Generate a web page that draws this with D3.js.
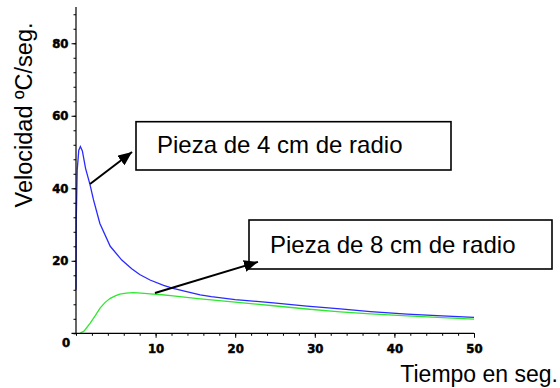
<!DOCTYPE html>
<html>
<head>
<meta charset="utf-8">
<script src="https://cdn.jsdelivr.net/npm/d3@7"></script>
<style>
  body { margin: 0; background: #fff; }
  svg { display: block; }
  .num { font-family: "DejaVu Sans Condensed", sans-serif; font-weight: bold; font-size: 13px; fill: #000; stroke: #000; stroke-width: 0.5px; }
  .label { font-family: "Liberation Sans", Arial, sans-serif; font-size: 24px; fill: #000; }
</style>
</head>
<body>
<div id="chart"></div>
<script>
// Pieza de 4 cm de radio: tiempo (s), velocidad (ºC/s)
const blueT = [0, 0.03, 0.15, 0.35, 0.55, 0.8, 1.2, 1.76, 2.2, 3.0, 4.3, 5.75, 7, 8, 9.3, 11, 12.2, 13.5, 15.6, 17, 20, 24.8, 29, 33.2, 37, 41.6, 46, 50];
const blueV = [12, 31, 45, 50.5, 51.5, 50.3, 45.5, 41, 36.8, 30.3, 24, 20.2, 17.8, 16.2, 14.7, 13.2, 12.4, 11.7, 10.6, 10.1, 9.3, 8.4, 7.5, 6.75, 6.0, 5.3, 4.8, 4.4];

// Pieza de 8 cm de radio
const greenT = [0.5, 1, 1.76, 2.4, 3.0, 3.6, 4.3, 5.0, 5.5, 6.3, 7.2, 8.2, 9.3, 10.5, 12.2, 15.6, 17, 20, 24.8, 29, 33.2, 37, 41.6, 46, 50];
const greenV = [0, 0.6, 2.75, 4.8, 6.9, 8.4, 9.65, 10.4, 10.8, 11.1, 11.2, 11.1, 10.9, 10.7, 10.3, 9.5, 9.2, 8.6, 7.6, 6.7, 5.9, 5.35, 4.8, 4.3, 3.9];

const xMajor = [10, 20, 30, 40, 50];
const yMajor = [20, 40, 60, 80];
const xMinor = d3.range(0, 51, 2);
const yMinor = d3.range(0, 89, 4);

const width = 560, height = 388;
const x = d3.scaleLinear().domain([0, 50]).range([76, 474]);
const y = d3.scaleLinear().domain([0, 90]).range([333.3, 7]);

const svg = d3.select("#chart").append("svg")
    .attr("width", width)
    .attr("height", height);

svg.append("defs").append("marker")
    .attr("id", "head")
    .attr("markerUnits", "userSpaceOnUse")
    .attr("viewBox", "0 0 14 12")
    .attr("refX", 14).attr("refY", 6)
    .attr("markerWidth", 14).attr("markerHeight", 12)
    .attr("orient", "auto")
    .append("path")
    .attr("d", "M0,0L14,6L0,12Z")
    .attr("fill", "#000");

// curves
const line = d3.line().x(d => x(d[0])).y(d => y(d[1]));
svg.append("path")
    .datum(d3.zip(greenT, greenV))
    .attr("fill", "none")
    .attr("stroke", "#2ee82e")
    .attr("stroke-width", 1.3)
    .attr("d", line);
svg.append("path")
    .datum(d3.zip(blueT, blueV))
    .attr("fill", "none")
    .attr("stroke", "#2a2aff")
    .attr("stroke-width", 1.3)
    .attr("d", line);

// axes: minor ticks, major ticks and labels in separate groups
const xPos = "translate(0," + y(0) + ")";
const yPos = "translate(" + x(0) + ",0)";

svg.append("g").attr("transform", xPos)
    .call(d3.axisBottom(x).tickValues(xMinor).tickSize(2.5).tickFormat(""))
    .call(g => g.select(".domain").remove());
svg.append("g").attr("transform", xPos)
    .call(d3.axisBottom(x).tickValues(xMajor).tickSize(4.5).tickPadding(6))
    .call(g => g.select(".domain").remove());

svg.append("g").attr("transform", yPos)
    .call(d3.axisLeft(y).tickValues(yMinor).tickSize(2.5).tickFormat(""))
    .call(g => g.select(".domain").remove());
svg.append("g").attr("transform", yPos)
    .call(d3.axisLeft(y).tickValues(yMajor).tickSize(4.5).tickPadding(3))
    .call(g => g.select(".domain").remove());

svg.selectAll(".tick text").attr("class", "num").attr("font-size", null).attr("font-family", null);
svg.selectAll(".tick line").attr("stroke", "#000");

svg.append("path")
    .attr("d", "M" + (x(0) - 4.5) + "," + y(0) + "H" + x(50))
    .attr("stroke", "#000").attr("stroke-width", 1.2);
svg.append("path")
    .attr("d", "M" + x(0) + "," + y(0) + "V" + y(90))
    .attr("stroke", "#000").attr("stroke-width", 1.2);

svg.append("text")
    .attr("class", "num")
    .attr("x", 66).attr("y", 346.5)
    .attr("text-anchor", "middle")
    .text("0");

// axis titles
svg.append("text")
    .attr("class", "label")
    .attr("transform", "translate(31.5,115) rotate(-90)")
    .attr("text-anchor", "middle")
    .style("font-size", "23.5px")
    .text("Velocidad ºC/seg.");
svg.append("text")
    .attr("class", "label")
    .attr("x", 558).attr("y", 381.7)
    .attr("text-anchor", "end")
    .style("font-size", "23px")
    .text("Tiempo en seg.");

// annotations
const notes = [
    {text: "Pieza de 4 cm de radio", box: [136, 121.7, 315, 48.3], tx: 157, ty: 153.3, from: [1.76, 41.2], to: [7.04, 50.0]},
    {text: "Pieza de 8 cm de radio", box: [249, 220, 303, 49], tx: 270, ty: 252.7, from: [9.92, 11.1], to: [22.86, 19.7]}
];
notes.forEach(n => {
    svg.append("rect")
        .attr("x", n.box[0]).attr("y", n.box[1])
        .attr("width", n.box[2]).attr("height", n.box[3])
        .attr("fill", "#fff")
        .attr("stroke", "#000")
        .attr("stroke-width", 1.6);
    svg.append("text")
        .attr("class", "label")
        .attr("x", n.tx).attr("y", n.ty)
        .text(n.text);
    svg.append("line")
        .attr("x1", x(n.from[0])).attr("y1", y(n.from[1]))
        .attr("x2", x(n.to[0])).attr("y2", y(n.to[1]))
        .attr("stroke", "#000")
        .attr("stroke-width", 2)
        .attr("marker-end", "url(#head)");
});
</script>
</body>
</html>
